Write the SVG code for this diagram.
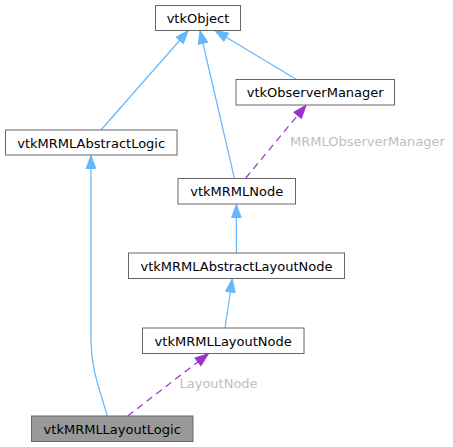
<svg xmlns="http://www.w3.org/2000/svg" width="453" height="447" viewBox="0 0 453 447">
<style>
.node rect{fill:#ffffff;stroke:#666666;stroke-width:1}
.node.cur rect{fill:#999999;stroke:#666666}
.node text{font-family:"DejaVu Sans",sans-serif;font-size:13px;fill:#000000;text-anchor:middle}
.e{fill:none;stroke:#63b8ff;stroke-width:1.2}
.d{fill:none;stroke:#9a32cd;stroke-width:1.2;stroke-dasharray:7,5}
.lbl{font-family:"DejaVu Sans",sans-serif;font-size:13px;fill:#bebebe}
</style>
<defs>
<marker id="ab" markerUnits="userSpaceOnUse" markerWidth="16" markerHeight="12" viewBox="-1 -6 15 12" refX="13" refY="0" orient="auto"><path d="M0,-4.8 L13,0 L0,4.8 z" fill="#63b8ff" stroke="#63b8ff" stroke-width="1"/></marker>
<marker id="ap" markerUnits="userSpaceOnUse" markerWidth="16" markerHeight="12" viewBox="-1 -6 15 12" refX="13" refY="0" orient="auto"><path d="M0,-4.8 L13,0 L0,4.8 z" fill="#9a32cd" stroke="#9a32cd" stroke-width="1"/></marker>
</defs>
<rect width="453" height="447" fill="#ffffff"/>
<g id="edges">
<path class="e" d="M101,130 L188.3,30.5" marker-end="url(#ab)"/>
<path class="e" d="M234.3,178 L200,30.5" marker-end="url(#ab)"/>
<path class="e" d="M295.7,79 L215,30.5" marker-end="url(#ab)"/>
<path class="d" d="M245.7,178 L306,105.3" marker-end="url(#ap)"/>
<path class="e" d="M236.4,253 L236.4,204.5" marker-end="url(#ab)"/>
<path class="e" d="M225,328 L232.3,279" marker-end="url(#ab)"/>
<path class="e" d="M107.3,416 C100,390 91,370 91,340 L91,155.5" marker-end="url(#ab)"/>
<path class="d" d="M127.7,416 L208.3,353.8" marker-end="url(#ap)"/>
<text class="lbl" x="290" y="146">MRMLObserverManager</text>
<text class="lbl" x="179.5" y="388">LayoutNode</text>
</g>
<g id="vtkObject" class="node"><rect x="155.5" y="5.5" width="85" height="25"/><text x="198" y="22.5">vtkObject</text></g>
<g id="vtkObserverManager" class="node"><rect x="236" y="79.5" width="158.5" height="25.5"/><text x="315.2" y="97">vtkObserverManager</text></g>
<g id="vtkMRMLAbstractLogic" class="node"><rect x="5.5" y="130" width="171.5" height="25"/><text x="91.2" y="147.5">vtkMRMLAbstractLogic</text></g>
<g id="vtkMRMLNode" class="node"><rect x="178" y="178.5" width="117.5" height="25.5"/><text x="236.7" y="196">vtkMRMLNode</text></g>
<g id="vtkMRMLAbstractLayoutNode" class="node"><rect x="128.5" y="253" width="216" height="25.5"/><text x="236.5" y="270.5">vtkMRMLAbstractLayoutNode</text></g>
<g id="vtkMRMLLayoutNode" class="node"><rect x="142.5" y="328" width="161.5" height="25.5"/><text x="223.2" y="345.5">vtkMRMLLayoutNode</text></g>
<g id="vtkMRMLLayoutLogic" class="node cur"><rect x="31.5" y="416" width="161.5" height="25.5"/><text x="112.2" y="433.5">vtkMRMLLayoutLogic</text></g>
</svg>
